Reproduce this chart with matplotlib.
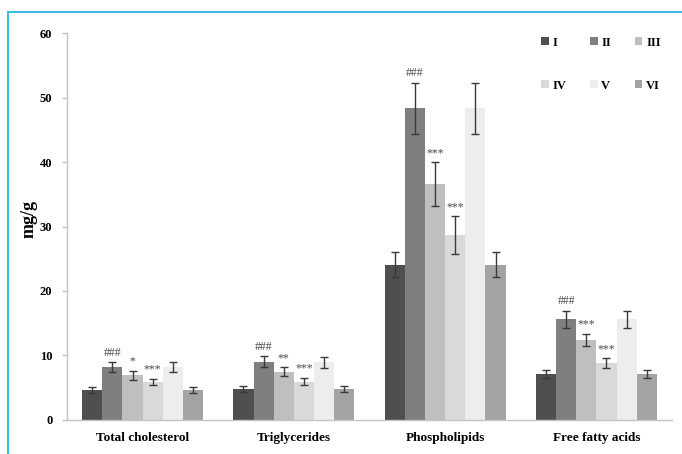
import numpy as np
import matplotlib
matplotlib.use("Agg")
import matplotlib.pyplot as plt
from matplotlib.patches import Rectangle

categories = ["Total cholesterol", "Triglycerides", "Phospholipids", "Free fatty acids"]
groups = ["I", "II", "III", "IV", "V", "VI"]

means = {
    "I":   [4.65, 4.75, 24.1, 7.1],
    "II":  [8.2, 9.0, 48.3, 15.6],
    "III": [6.9, 7.5, 36.6, 12.4],
    "IV":  [5.85, 5.95, 28.7, 8.8],
    "V":   [8.2, 8.95, 48.3, 15.6],
    "VI":  [4.65, 4.75, 24.1, 7.1],
}
errors = {
    "I":   [0.4, 0.45, 2.0, 0.65],
    "II":  [0.8, 0.85, 4.0, 1.35],
    "III": [0.7, 0.7, 3.35, 1.0],
    "IV":  [0.5, 0.6, 2.9, 0.78],
    "V":   [0.8, 0.85, 4.0, 1.35],
    "VI":  [0.4, 0.45, 2.0, 0.6],
}
# significance marks per group, per category
marks = {
    "II":  ["###", "###", "###", "###"],
    "III": ["*", "**", "***", "***"],
    "IV":  ["***", "***", "***", "***"],
}
colors = {
    "I": "#4f4f4f", "II": "#7f7f7f", "III": "#bfbfbf",
    "IV": "#d9d9d9", "V": "#ededed", "VI": "#a3a3a3",
}
yticks = [0, 10, 20, 30, 40, 50, 60]

serif = ["Liberation Serif", "DejaVu Serif"]

fig = plt.figure(figsize=(6.82, 4.54), dpi=100)
ax = fig.add_axes([0.0982, 0.0749, 0.8871, 0.8524])

x = np.arange(len(categories))
width = 0.8 / len(groups)
handles = {}
for i, g in enumerate(groups):
    pos = x - 0.4 + width * (i + 0.5)
    handles[g] = ax.bar(pos, means[g], width, color=colors[g], label=g, zorder=2)
    ax.errorbar(pos, means[g], yerr=errors[g], fmt="none", ecolor="#3a3a3a",
                elinewidth=1.0, capsize=3, capthick=1.0, zorder=3)
    if g in marks:
        for p, m, e, s in zip(pos, means[g], errors[g], marks[g]):
            ax.text(p, m + e + 0.5, s, ha="center", va="bottom", fontsize=8.5,
                    family=serif, color="#4a4a4a")

ax.set_xlim(-0.5, len(categories) - 0.5)
ax.set_ylim(0, 60)
ax.set_yticks(yticks)
ax.set_yticklabels([str(t) for t in yticks], family=serif, fontweight="bold", fontsize=9)
ax.set_xticks(x)
ax.set_xticklabels(categories, family=serif, fontweight="bold", fontsize=9.5)
ax.tick_params(axis="x", length=0, pad=9)
ax.tick_params(axis="y", length=3.6, color="#bfbfbf", width=1, pad=7)
ax.set_ylabel("mg/g", family=serif, fontweight="bold", fontsize=13)
ax.yaxis.set_label_coords(-0.049, 0.52)
for side in ["top", "right"]:
    ax.spines[side].set_visible(False)
for side in ["left", "bottom"]:
    ax.spines[side].set_color("#c4c4c4")
    ax.spines[side].set_linewidth(1.0)

# legend laid out row by row: I II III / IV V VI
order = ["I", "IV", "II", "V", "III", "VI"]
ax.legend([handles[g] for g in order], order, ncol=3, loc="upper right",
          bbox_to_anchor=(1.0, 1.02), frameon=False,
          prop={"family": serif, "weight": "bold", "size": 9},
          handlelength=0.6, handleheight=0.6, handletextpad=0.3,
          columnspacing=1.9, labelspacing=2.5)

# thin frame around the figure
fig.patches.append(Rectangle((8 / 682, -0.05), 1.2, 1 - 12 / 454 + 0.05,
                             transform=fig.transFigure, fill=False,
                             edgecolor="#3bbde6", linewidth=1.5))

fig.savefig("out.png", dpi=100)
